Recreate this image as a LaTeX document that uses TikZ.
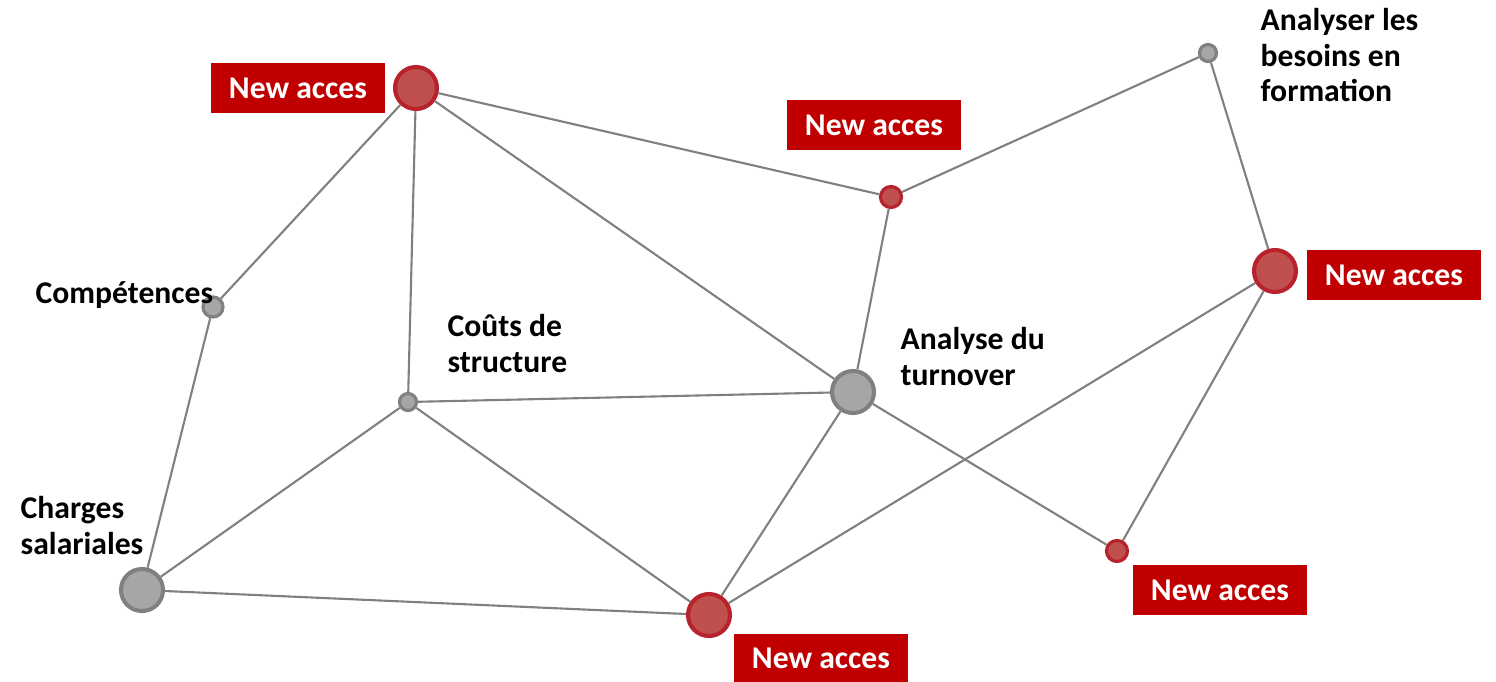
\documentclass[tikz,border=0pt]{standalone}
\usepackage{fontspec}
\setmainfont{Carlito}
\definecolor{rfill}{RGB}{192,80,77}
\definecolor{rdraw}{RGB}{183,34,45}
\definecolor{gfill}{RGB}{166,166,166}
\definecolor{gdraw}{RGB}{128,128,128}
\definecolor{tagred}{RGB}{192,0,0}
\definecolor{edgec}{RGB}{128,128,128}
\begin{document}
\begin{tikzpicture}[x=0.01cm,y=-0.01cm,
  edge/.style={draw=edgec, line width=0.6pt},
  rbig/.style={circle, inner sep=0pt, fill=rfill, draw=rdraw, line width=1.15pt, minimum size=0.42cm},
  rsmall/.style={circle, inner sep=0pt, fill=rfill, draw=rdraw, line width=0.9pt, minimum size=0.21cm},
  gbig/.style={circle, inner sep=0pt, fill=gfill, draw=gdraw, line width=1.15pt, minimum size=0.42cm},
  gsmall/.style={circle, inner sep=0pt, fill=gfill, draw=gdraw, line width=0.9pt, minimum size=0.17cm},
  tag/.style={fill=tagred, text=white, font=\bfseries, minimum width=1.73cm, minimum height=0.5cm, inner sep=0pt},
  lbl/.style={font=\bfseries, align=left, inner sep=0pt, text=black}
]
\fontsize{9pt}{10pt}\selectfont
\useasboundingbox (0,0) rectangle (1496,681);
% nodes
\node[rbig] (A) at (416,88) {};
\node[rsmall] (B) at (891,197) {};
\node[gsmall] (C) at (1208,53) {};
\node[rbig] (D) at (1275,271) {};
\node[gsmall, minimum size=0.2cm] (E) at (213,307) {};
\node[gsmall] (F) at (408,402) {};
\node[gbig] (G) at (853,392) {};
\node[gbig] (H) at (142,590) {};
\node[rbig] (I) at (709,615) {};
\node[rsmall] (J) at (1117,551) {};
% edges
\foreach \a/\b in {A/E,A/F,A/G,A/B,B/C,C/D,B/G,E/H,H/F,H/I,F/G,F/I,G/I,G/J,D/I,D/J}
  \draw[edge] (\a) -- (\b);
% labels
\node[tag] (T1) at (298,88) {New acces};
\node[tag] (T2) at (874,125) {New acces};
\node[tag] (T3) at (1394,275) {New acces};
\node[tag] (T4) at (1220,590) {New acces};
\node[tag, minimum height=0.47cm] (T5) at (821,658) {New acces};
\node[lbl, anchor=west] (L1) at (35,295) {Compétences};
\node[lbl, anchor=north west] (L2) at (447,314) {Coûts de\\structure};
\node[lbl, anchor=north west] (L3) at (900,327) {Analyse du\\turnover};
\node[lbl, anchor=north west] (L4) at (20,496) {Charges\\salariales};
\node[lbl, anchor=north west] (L5) at (1260,8) {Analyser les\\besoins en\\formation};
\end{tikzpicture}
\end{document}
